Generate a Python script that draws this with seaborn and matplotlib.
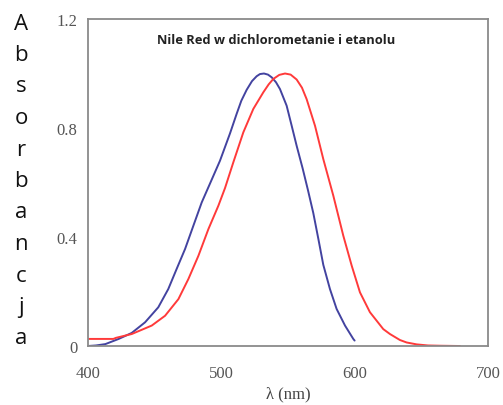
import pandas as pd
import matplotlib
matplotlib.use("Agg")
import matplotlib.pyplot as plt
import seaborn as sns

# Absorbance spectra
DCM_NM = [400, 406, 413, 423, 432.8, 442.8, 452.7, 460.2, 466.5, 472.8, 479, 485.3, 492.3,
          499, 506.5, 511.5, 515, 519, 523, 526.5, 529, 532, 535, 537.8, 541, 544, 549,
          552.8, 556.5, 561, 565, 569, 572.8, 576.5, 581.5, 586.5, 592.8, 599, 600]
DCM_ABS = [0.0, 0.002, 0.007, 0.026, 0.048, 0.087, 0.142, 0.209, 0.283, 0.356, 0.441, 0.527,
           0.605, 0.68, 0.78, 0.852, 0.9, 0.94, 0.972, 0.99, 0.998, 1.0, 0.996, 0.986, 0.968,
           0.943, 0.882, 0.808, 0.735, 0.652, 0.572, 0.488, 0.393, 0.298, 0.209, 0.136,
           0.075, 0.026, 0.02]
ETOH_NM = [400, 419, 421, 432.8, 447.8, 457.8, 467.8, 475.3, 482.8, 490.3, 497.8, 502.8,
           509, 516.5, 524, 531.5, 535.5, 539, 543.5, 547.8, 552, 556.5, 560.5, 564, 570.3,
           576.5, 584, 591.5, 597.8, 604, 611.5, 621.5, 626.5, 634, 639, 646.5, 655, 664, 679]
ETOH_ABS = [0.026, 0.026, 0.03, 0.044, 0.075, 0.111, 0.172, 0.246, 0.331, 0.429, 0.515, 0.58,
            0.674, 0.784, 0.87, 0.931, 0.96, 0.98, 0.995, 1.0, 0.996, 0.978, 0.948, 0.906,
            0.808, 0.686, 0.552, 0.405, 0.295, 0.197, 0.124, 0.062, 0.044, 0.022, 0.013,
            0.006, 0.002, 0.001, 0.0]

TITLE = "Nile Red w dichlorometanie i etanolu"
YLABEL = "Absorbancja"
XTICKS = [400, 500, 600, 700]
YTICKS = [0, 0.4, 0.8, 1.2]
YTICKLABELS = ["0", "0.4", "0.8", "1.2"]


def main() -> None:
    sns.set_style("white")
    df = pd.concat([
        pd.DataFrame({"nm": DCM_NM, "A": DCM_ABS, "solvent": "DCM"}),
        pd.DataFrame({"nm": ETOH_NM, "A": ETOH_ABS, "solvent": "EtOH"}),
    ])

    fig = plt.figure(figsize=(5.03, 4.06), dpi=100)
    ax = fig.add_axes([0.175, 0.1453, 0.795, 0.8054])
    sns.lineplot(data=df, x="nm", y="A", hue="solvent", sort=False, legend=False,
                 palette={"DCM": "#4343a0", "EtOH": "#ff3a3a"}, linewidth=1.4, ax=ax)

    ax.set_xlim(400, 700)
    ax.set_ylim(0, 1.2)
    ax.set_xticks(XTICKS)
    ax.set_yticks(YTICKS)
    ax.set_yticklabels(YTICKLABELS)
    for sp in ax.spines.values():
        sp.set_color("#8a8a8a")
        sp.set_linewidth(1.3)
    ax.tick_params(direction="inout", length=8, width=1.2, color="#8a8a8a",
                   labelcolor="#555555", labelsize=12)
    ax.tick_params(axis="x", pad=10)
    for lab in ax.get_xticklabels() + ax.get_yticklabels():
        lab.set_family("Liberation Serif")
    ax.set_xlabel("λ (nm)", family="Liberation Serif", fontsize=12, color="#444444", labelpad=3)
    ax.set_ylabel("")

    ax.text(0.47, 0.936, TITLE, transform=ax.transAxes, ha="center", va="center",
            fontsize=9.3, fontweight="bold", family="Open Sans", color="#222222")

    # stacked vertical y label
    top, step = 1 - 24 / 406, 31.5 / 406
    for i, ch in enumerate(YLABEL):
        fig.text(21 / 503, top - i * step, ch, ha="center", va="center",
                 fontsize=16, family="Open Sans", color="#111111")

    fig.savefig("out.png", dpi=100)


if __name__ == "__main__":
    main()
